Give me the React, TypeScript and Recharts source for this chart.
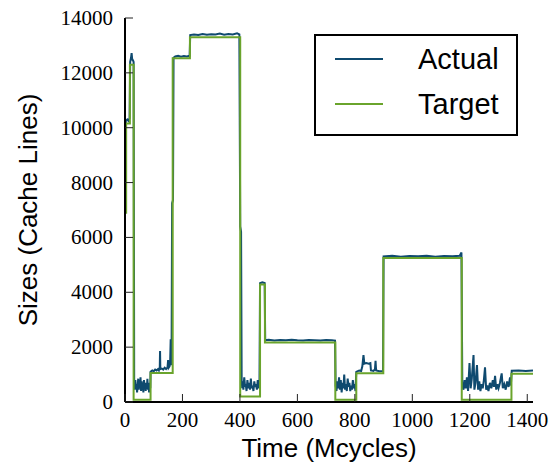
import React from 'react';
import { LineChart, Line, XAxis, YAxis, Legend, Label } from 'recharts';

const xTicks = [0, 200, 400, 600, 800, 1000, 1200, 1400];
const yTicks = [0, 2000, 4000, 6000, 8000, 10000, 12000, 14000];

const targetTime = [0, 4, 17, 30, 89, 166, 226, 401, 470, 487, 732, 805, 899, 1172, 1345, 1420];
const targetSize = [6900, 10150, 12300, 80, 1060, 12530, 13300, 200, 4280, 2170, 80, 1050, 5250, 80, 1030, 1030];

const actualTime = [
  0, 3, 8, 12, 16, 18, 21, 23, 25, 28, 30, 32,
  34, 36, 38, 40, 42, 44, 46, 48, 50, 52, 54, 56, 58, 60, 62, 64, 66, 68, 70, 72, 74, 76, 78, 80, 82, 84, 86, 88,
  89, 95, 100, 105, 110, 115, 118, 121, 122, 123, 128, 133, 138, 143, 148, 150, 152, 155, 157, 159, 160, 162, 164, 167, 169,
  175, 185, 195, 205, 215, 225, 227, 240, 255, 270, 285, 300, 315, 330, 345, 360, 375, 390, 398, 401, 404, 406,
  408, 410, 412, 415, 418, 420, 423, 426, 429, 432, 435, 438, 441, 444, 447, 450, 453, 456, 459, 462, 465, 468,
  470, 478, 486, 488, 500, 520, 540, 560, 580, 600, 620, 640, 660, 680, 700, 720, 731, 733,
  736, 739, 742, 745, 748, 751, 754, 757, 760, 763, 766, 769, 772, 775, 778, 781, 784, 787, 790, 793, 796, 799, 802,
  805, 815, 822, 826, 830, 833, 840, 848, 854, 856, 865, 870, 872, 874, 885, 898,
  900, 930, 960, 990, 1020, 1050, 1080, 1110, 1140, 1165, 1171, 1174,
  1178, 1182, 1186, 1190, 1194, 1199, 1203, 1207, 1213, 1216, 1220, 1225, 1229, 1233, 1237, 1241, 1245, 1249, 1253, 1257,
  1261, 1265, 1270, 1275, 1280, 1284, 1288, 1292, 1296, 1300, 1305, 1311, 1315, 1320, 1325, 1330, 1335, 1340, 1343,
  1346, 1370, 1395, 1420,
];
const actualSize = [
  6900, 10250, 10300, 10250, 10350, 12400, 12550, 12720, 12500, 12450, 12400, 700,
  450, 800, 500, 650, 350, 600, 850, 450, 700, 550, 900, 400, 750, 500, 650, 350, 800, 550, 700, 400, 650, 500, 850, 450, 600, 350, 700, 500,
  1100, 1150, 1120, 1180, 1150, 1200, 1150, 1250, 1860, 1200, 1220, 1180, 1250, 1200, 1260, 1530, 1250, 1300, 1400, 2285, 1350, 1400, 7250, 7350, 12550,
  12600, 12620, 12590, 12610, 12600, 12620, 13380, 13400, 13380, 13420, 13390, 13410, 13400, 13430, 13390, 13420, 13400, 13440, 13400, 6400, 6200, 800,
  500, 750, 450, 900, 550, 650, 400, 800, 500, 700, 450, 850, 500, 600, 400, 750, 550, 650, 450, 800, 500, 600,
  4330, 4360, 4340, 2250, 2270, 2240, 2260, 2250, 2270, 2250, 2240, 2260, 2250, 2240, 2260, 2250, 2240, 600,
  400, 750, 500, 900, 450, 800, 350, 700, 500, 1000, 450, 650, 400, 850, 550, 700, 400, 600, 450, 800, 500, 650, 400,
  1100, 1150, 1130, 1300, 1710, 1400, 1420, 1400, 1420, 1150, 1130, 1200, 1505, 1150, 1120, 1130,
  5310, 5330, 5300, 5320, 5310, 5330, 5300, 5320, 5310, 5330, 5450, 600,
  450, 800, 500, 900, 400, 1420, 500, 850, 1710, 450, 700, 1350, 450, 750, 400, 650, 500, 800, 1265, 450,
  600, 400, 700, 500, 800, 550, 950, 450, 650, 500, 700, 1045, 500, 650, 450, 750, 550, 900, 600,
  1140, 1150, 1130, 1150,
];

const targetData = targetTime.map((t, i) => ({ time: t, size: targetSize[i] }));
const actualData = actualTime.map((t, i) => ({ time: t, size: actualSize[i] }));

const BLUE = '#0f4a6f';
const GREEN = '#6aa42c';
const TICK_FONT = "'Liberation Serif', 'DejaVu Serif', serif";
const SANS = "'Liberation Sans', Arial, sans-serif";

const BottomTick = (props: any) => {
  const { x, y, payload } = props;
  return (
    <g>
      <line x1={x} y1={y} x2={x} y2={y - 8} stroke="#222" strokeWidth={1} />
      <text x={x} y={y + 25} textAnchor="middle" style={{ fontFamily: TICK_FONT, fontSize: 21 }} fill="#000">
        {payload.value}
      </text>
    </g>
  );
};
const LeftTick = (props: any) => {
  const { x, y, payload } = props;
  return (
    <g>
      <line x1={x} y1={y} x2={x + 8} y2={y} stroke="#222" strokeWidth={1} />
      <text x={x - 12} y={y + 7} textAnchor="end" style={{ fontFamily: TICK_FONT, fontSize: 21 }} fill="#000">
        {payload.value}
      </text>
    </g>
  );
};
const TopTick = (props: any) => {
  const { x, y } = props;
  return <line x1={x} y1={y} x2={x} y2={y + 8} stroke="#222" strokeWidth={1} />;
};
const RightTick = (props: any) => {
  const { x, y } = props;
  return <line x1={x} y1={y} x2={x - 8} y2={y} stroke="#222" strokeWidth={1} />;
};

const renderLegend = () => (
  <div
    style={{
      position: 'relative',
      width: 204,
      height: 102,
      boxSizing: 'border-box',
      border: '2px solid #000',
      background: '#fff',
      fontFamily: SANS,
      fontSize: 29,
      color: '#000',
    }}
  >
    {[
      { name: 'Actual', color: BLUE, cy: 23 },
      { name: 'Target', color: GREEN, cy: 68 },
    ].map((r) => (
      <React.Fragment key={r.name}>
        <svg style={{ position: 'absolute', left: 19, top: r.cy - 2, width: 48, height: 4 }}>
          <line x1={0} y1={2} x2={48} y2={2} stroke={r.color} strokeWidth={2} />
        </svg>
        <div style={{ position: 'absolute', left: 102, top: r.cy - 17, lineHeight: '34px', whiteSpace: 'nowrap' }}>
          {r.name}
        </div>
      </React.Fragment>
    ))}
  </div>
);

export default function App() {
  return (
    <div style={{ position: 'absolute', left: 0, top: 0, background: '#fff' }}>
      <LineChart width={554} height={465} margin={{ top: 18, right: 21, bottom: 0, left: 0 }}>
        <XAxis
          xAxisId="b"
          dataKey="time"
          type="number"
          domain={[0, 1420]}
          allowDataOverflow
          ticks={xTicks}
          interval={0}
          height={63}
          tickSize={0}
          tickMargin={0}
          tickLine={false}
          tick={<BottomTick />}
          axisLine={{ stroke: '#000', strokeWidth: 2 }}
        >
          <Label
            content={() => (
              <text x={329} y={457} textAnchor="middle" style={{ fontFamily: SANS, fontSize: 26 }} fill="#000">
                Time (Mcycles)
              </text>
            )}
          />
        </XAxis>
        <XAxis
          xAxisId="t"
          orientation="top"
          dataKey="time"
          type="number"
          domain={[0, 1420]}
          allowDataOverflow
          ticks={xTicks}
          interval={0}
          height={0}
          tickSize={0}
          tickMargin={0}
          tickLine={false}
          tick={<TopTick />}
          axisLine={{ stroke: '#000', strokeWidth: 2 }}
        />
        <YAxis
          yAxisId="l"
          type="number"
          domain={[0, 14000]}
          allowDataOverflow
          ticks={yTicks}
          interval={0}
          width={125}
          tickSize={0}
          tickMargin={0}
          tickLine={false}
          tick={<LeftTick />}
          axisLine={{ stroke: '#000', strokeWidth: 2 }}
        >
          <Label
            content={() => (
              <text
                x={37}
                y={210}
                transform="rotate(-90, 37, 210)"
                textAnchor="middle"
                style={{ fontFamily: SANS, fontSize: 26 }}
                fill="#000"
              >
                Sizes (Cache Lines)
              </text>
            )}
          />
        </YAxis>
        <YAxis
          yAxisId="r"
          orientation="right"
          type="number"
          domain={[0, 14000]}
          allowDataOverflow
          ticks={yTicks}
          interval={0}
          width={0}
          tickSize={0}
          tickMargin={0}
          tickLine={false}
          tick={<RightTick />}
          axisLine={{ stroke: '#000', strokeWidth: 2 }}
        />
        <Legend
          layout="horizontal"
          verticalAlign="middle"
          align="center"
          content={renderLegend}
          wrapperStyle={{ left: 314, top: 34, width: 204, height: 102 }}
        />
        <Line
          name="Actual"
          xAxisId="b"
          yAxisId="l"
          data={actualData}
          dataKey="size"
          type="linear"
          stroke={BLUE}
          strokeWidth={2}
          dot={false}
          isAnimationActive={false}
        />
        <Line
          name="Target"
          xAxisId="b"
          yAxisId="l"
          data={targetData}
          dataKey="size"
          type="stepAfter"
          stroke={GREEN}
          strokeWidth={2}
          dot={false}
          isAnimationActive={false}
        />
      </LineChart>
    </div>
  );
}
